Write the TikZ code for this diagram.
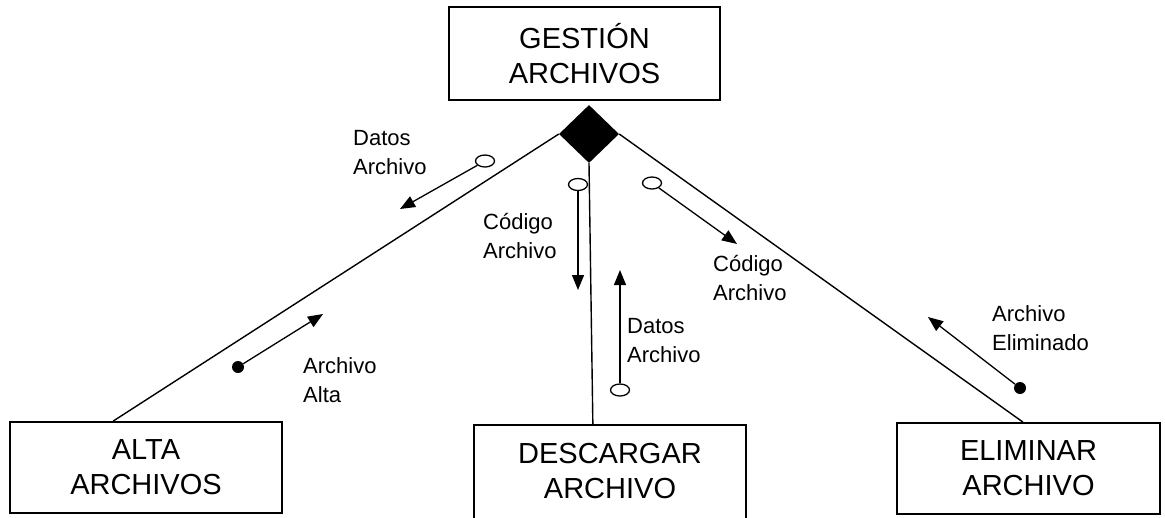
\documentclass[tikz,border=0pt]{standalone}
\usepackage{fontspec}
\setmainfont{Liberation Sans}
\usetikzlibrary{arrows.meta, shapes.geometric, calc}

\tikzset{
  modulo/.style={draw, line width=1.8pt, inner sep=0pt, align=center,
    minimum height=91pt, font=\fontsize{29}{35}\selectfont},
  enlace/.style={line width=1.4pt},
  flujo/.style={line width=1.3pt, -{Triangle[length=15pt,width=12pt]}},
  abierto/.style={ellipse, draw, fill=white, line width=1.3pt, inner sep=0pt,
    minimum width=19pt, minimum height=12pt},
  lleno/.style={circle, fill=black, inner sep=0pt, minimum size=12pt},
  etiqueta/.style={anchor=west, inner sep=0pt, align=left,
    font=\fontsize{22}{29}\selectfont}
}

\begin{document}
\begin{tikzpicture}[x=1pt, y=-1pt]
  \clip (0,0) rectangle (1165,517);
  % modulos
  \node[modulo, minimum width=271pt, minimum height=93pt] (gestion) at (584.5,53.5) {GESTIÓN\\ARCHIVOS};
  \node[modulo, minimum width=272pt] (alta) at (146,467.5) {ALTA\\ARCHIVOS};
  \node[modulo, minimum width=270pt, draw=none] (desc) at (610,471.5) {DESCARGAR\\ARCHIVO};
  \draw[line width=1.8pt] ([yshift=-15pt]desc.south west) |- (desc.north east)
    -- ([yshift=-15pt]desc.south east);
  \node[modulo, minimum width=263pt] (elim) at (1028.5,468.5) {ELIMINAR\\ARCHIVO};
  % rombo de seleccion
  \node[diamond, fill=black, inner sep=0pt, minimum width=60pt, minimum height=58pt] (rombo) at (589,134) {};
  % enlaces
  \draw[enlace] (rombo.west) -- ($(alta.north west)!0.38!(alta.north east)$);
  \draw[enlace] (rombo.south) -- ($(desc.north west)!0.437!(desc.north east)$);
  \draw[enlace] (rombo.east) -- ($(elim.north west)!0.479!(elim.north east)$);
  % datos archivo (alta)
  \node[abierto] (c1) at (485,161) {};
  \coordinate (p1) at (400,209);
  \draw[flujo] (c1) -- (p1);
  \node[etiqueta] (e1) at (353,153) {Datos\\Archivo};
  % archivo alta
  \node[lleno] (c2) at (238,367) {};
  \coordinate (p2) at (323,314);
  \draw[flujo] (c2) -- (p2);
  \node[etiqueta] (e2) at (303,380) {Archivo\\Alta};
  % codigo archivo (descargar)
  \node[abierto] (c3) at (578,184.5) {};
  \coordinate (p3) at (578,290);
  \draw[flujo] (c3) -- (p3);
  \node[etiqueta] (e3) at (483,236) {Código\\Archivo};
  % datos archivo (descargar)
  \node[abierto] (c4) at (620,390) {};
  \coordinate (p4) at (620,270);
  \draw[flujo] (c4) -- (p4);
  \node[etiqueta] (e4) at (627,341) {Datos\\Archivo};
  % codigo archivo (eliminar)
  \node[abierto] (c5) at (652,183) {};
  \coordinate (p5) at (737,244);
  \draw[flujo] (c5) -- (p5);
  \node[etiqueta] (e5) at (713,278) {Código\\Archivo};
  % archivo eliminado
  \node[lleno] (c6) at (1020,388) {};
  \coordinate (p6) at (928,317);
  \draw[flujo] (c6) -- (p6);
  \node[etiqueta] (e6) at (992,328) {Archivo\\Eliminado};
\end{tikzpicture}
\end{document}
